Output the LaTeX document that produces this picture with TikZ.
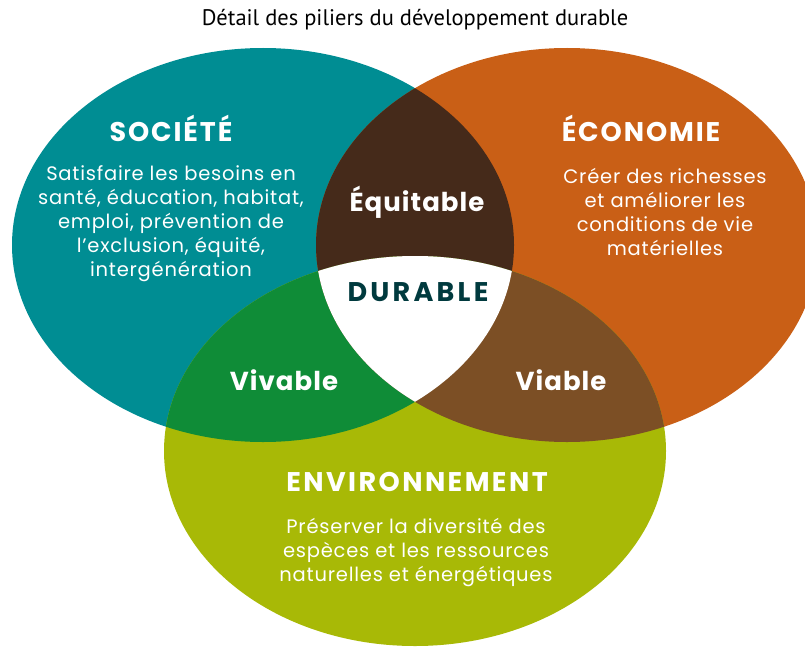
\documentclass[tikz,border=0pt]{standalone}
\usepackage{fontspec}
\setmainfont{Poppins}
\newfontfamily\titrefont{PT Sans}
\usepackage{tikz}

\definecolor{societe}{RGB}{0,141,147}
\definecolor{economie}{RGB}{201,95,22}
\definecolor{environ}{RGB}{168,185,6}
\definecolor{equitable}{RGB}{69,42,26}
\definecolor{viable}{RGB}{124,79,37}
\definecolor{vivable}{RGB}{15,140,55}
\definecolor{durable}{RGB}{0,58,62}

\newcommand{\ellsoc}{(263,245) ellipse [x radius=251pt, y radius=197pt]}
\newcommand{\elleco}{(567,245) ellipse [x radius=251pt, y radius=197pt]}
\newcommand{\ellenv}{(415,451) ellipse [x radius=251pt, y radius=195pt]}

\tikzset{
  pilier/.style={text=white, font=\addfontfeatures{LetterSpace=7}\bfseries\fontsize{27}{30}\selectfont},
  qualite/.style={text=white, font=\addfontfeatures{LetterSpace=4}\bfseries\fontsize{26}{30}\selectfont},
  texte/.style={text=white, align=center, font=\addfontfeatures{LetterSpace=4}\fontsize{19.5}{24}\selectfont},
}

\begin{document}
\begin{tikzpicture}[x=1pt,y=-1pt]
\useasboundingbox (0,0) rectangle (805,650);
\clip (0,0) rectangle (805,650);

% the three circles
\fill[societe] \ellsoc;
\fill[economie] \elleco;
\begin{scope}
  \clip \ellsoc;
  \fill[equitable] \elleco;
\end{scope}
\fill[environ] \ellenv;
\begin{scope}
  \clip \ellenv;
  \fill[vivable] \ellsoc;
  \fill[viable] \elleco;
  \clip \ellsoc;
  \fill[white] \elleco;
\end{scope}

\node[font=\titrefont\fontsize{22.5}{26}\selectfont] (titre) at (415,20) {Détail des piliers du développement durable};

\node[pilier] (soc) at (171,128) {SOCIÉTÉ};
\node[texte] (soctxt) at (171,224) {Satisfaire les besoins en\\santé, éducation, habitat,\\emploi, prévention de\\l’exclusion, équité,\\intergénération};

\node[pilier] (eco) at (641,128) {ÉCONOMIE};
\node[texte] (ecotxt) at (665,212) {Créer des richesses\\et améliorer les\\conditions de vie\\matérielles};

\node[pilier, font=\addfontfeatures{LetterSpace=9}\bfseries\fontsize{27}{30}\selectfont] (env) at (417,482) {ENVIRONNEMENT};
\node[texte] (envtxt) at (416,553) {Préserver la diversité des\\espèces et les ressources\\naturelles et énergétiques};

\node[qualite] (equi) at (417,202) {Équitable};
\node[qualite] (viva) at (284,380) {Vivable};
\node[qualite] (viab) at (561,380) {Viable};
\node[qualite, text=durable, font=\addfontfeatures{LetterSpace=12}\bfseries\fontsize{27}{30}\selectfont] (dura) at (418,292) {DURABLE};
\end{tikzpicture}
\end{document}
